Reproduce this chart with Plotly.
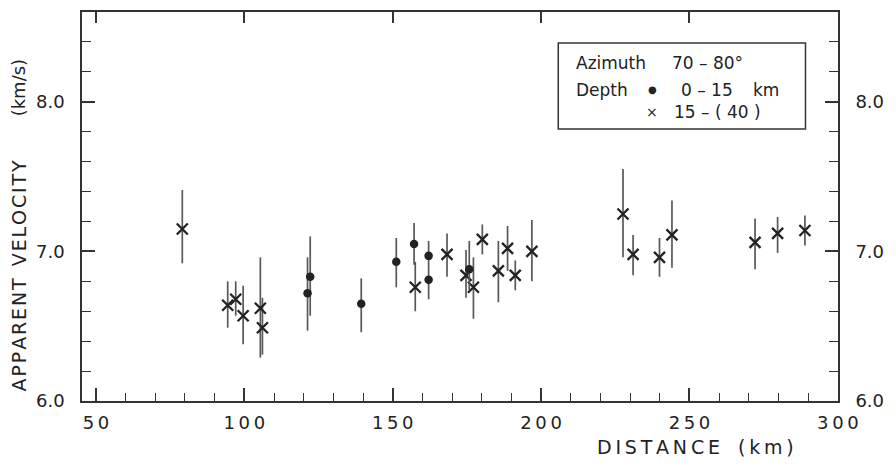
import plotly.graph_objects as go

# ---- data ----
# depth 15-(40) km  (crosses)
cross_dist = [79.1, 94.4, 97.1, 99.6, 105.4, 106.1, 157.6, 168.3, 174.7, 177.2, 180.2,
              185.6, 188.7, 191.3, 196.9, 227.6, 231.0, 239.9, 244.1, 272.1, 279.7, 288.9]
cross_vel = [7.15, 6.64, 6.68, 6.57, 6.62, 6.49, 6.76, 6.98, 6.84, 6.76, 7.08,
             6.87, 7.02, 6.84, 7.00, 7.25, 6.98, 6.96, 7.11, 7.06, 7.12, 7.14]
cross_hi = [7.41, 6.80, 6.80, 6.77, 6.96, 6.69, 6.93, 7.12, 7.01, 6.96, 7.18,
            7.07, 7.17, 6.94, 7.21, 7.55, 7.11, 7.09, 7.34, 7.22, 7.23, 7.24]
cross_lo = [6.92, 6.49, 6.57, 6.38, 6.29, 6.31, 6.60, 6.83, 6.69, 6.55, 6.98,
            6.66, 6.87, 6.74, 6.80, 6.96, 6.84, 6.83, 6.89, 6.88, 6.99, 7.04]

# depth 0-15 km  (dots)
dot_dist = [121.3, 122.2, 139.4, 151.2, 157.2, 162.1, 162.1, 175.8]
dot_vel = [6.72, 6.83, 6.65, 6.93, 7.05, 6.97, 6.81, 6.88]
dot_hi = [6.96, 7.10, 6.82, 7.09, 7.19, 7.07, 6.89, 7.07]
dot_lo = [6.47, 6.57, 6.46, 6.76, 6.91, 6.89, 6.68, 6.74]

x_tickvals = [50, 100, 150, 200, 250, 300]
x_ticktext = ["50", "100", "150", "200", "250", "300"]
y_tickvals = [6, 7, 8]
y_ticktext = ["6.0", "7.0", "8.0"]

INK = "#222222"
FONT = "DejaVu Sans"


def track(s, sp="\u2009"):
    """widen letter spacing like the hand-lettered original"""
    return sp.join(list(s))


fig = go.Figure()

fig.add_trace(go.Scatter(
    x=cross_dist, y=cross_vel, mode="markers", name="15 - (40)",
    marker=dict(symbol="x-thin", size=11, color=INK, line=dict(width=2.3, color=INK)),
    error_y=dict(type="data", symmetric=False,
                 array=[h - v for h, v in zip(cross_hi, cross_vel)],
                 arrayminus=[v - l for l, v in zip(cross_lo, cross_vel)],
                 width=0, thickness=1.7, color="#585858"),
    showlegend=False, hoverinfo="x+y"))

fig.add_trace(go.Scatter(
    x=dot_dist, y=dot_vel, mode="markers", name="0 - 15 km",
    marker=dict(symbol="circle", size=8.5, color=INK),
    error_y=dict(type="data", symmetric=False,
                 array=[h - v for h, v in zip(dot_hi, dot_vel)],
                 arrayminus=[v - l for l, v in zip(dot_lo, dot_vel)],
                 width=0, thickness=1.7, color="#585858"),
    showlegend=False, hoverinfo="x+y"))

# invisible trace to activate the top / right axes
fig.add_trace(go.Scatter(x=[150], y=[7], xaxis="x2", yaxis="y2", mode="markers",
                         marker=dict(opacity=0), showlegend=False, hoverinfo="skip"))

XR = [45.3, 300.05]
YR = [6.0, 8.6]
axis_common = dict(showgrid=False, zeroline=False, showline=True, linewidth=1.6,
                   linecolor="#333333", tickcolor="#333333", tickwidth=1.5, ticks="inside")
tf = dict(size=18, color=INK, family=FONT)

fig.update_layout(
    width=896, height=467,
    margin=dict(l=82, r=51, t=12, b=66),
    paper_bgcolor="white", plot_bgcolor="white",
    font=dict(family=FONT, color=INK, size=17),
    xaxis=dict(range=XR, tickmode="array", tickvals=x_tickvals,
               ticktext=[track(t) for t in x_ticktext],
               ticklen=13, ticklabelstandoff=5, tickfont=tf,
               minor=dict(tickmode="linear", tick0=50, dtick=10, ticks="inside",
                          ticklen=8, tickwidth=1.3, tickcolor="#333333"),
               **axis_common),
    xaxis2=dict(range=XR, overlaying="x", side="top", tickmode="linear", tick0=50, dtick=50,
                ticklen=11, showticklabels=False, **axis_common),
    yaxis=dict(range=YR, tickmode="array", tickvals=y_tickvals, ticktext=y_ticktext,
               ticklen=13, ticklabelstandoff=12, tickfont=tf,
               minor=dict(tickmode="linear", tick0=6, dtick=0.2, ticks="inside",
                          ticklen=9, tickwidth=1.3, tickcolor="#333333"),
               **axis_common),
    yaxis2=dict(range=YR, overlaying="y", side="right", anchor="x", tickmode="array",
                tickvals=y_tickvals, ticktext=y_ticktext,
                ticklen=13, ticklabelstandoff=12, tickfont=tf,
                minor=dict(tickmode="linear", tick0=6, dtick=0.2, ticks="inside",
                           ticklen=9, tickwidth=1.3, tickcolor="#333333"),
                **axis_common),
)

title_font = dict(size=19, color=INK, family=FONT)
ann = []
# axis titles
ann.append(dict(text=track("DISTANCE") + "   " + track("(km)"), x=0.811, y=-0.118,
                font=title_font))
ann.append(dict(text=track("APPARENT", "\u200a") + "  " + track("VELOCITY", "\u200a"),
                x=-0.084, y=0.324, textangle=-90, font=title_font))
ann.append(dict(text="(km/s)", x=-0.084, y=0.805, textangle=-90,
                font=dict(size=18, color=INK, family=FONT)))

# legend box content
lf = dict(size=17, color=INK, family=FONT)
ann += [
    dict(text="Azimuth", x=0.651, y=0.869, xanchor="left"),
    dict(text="70 \u2013 80\u00b0", x=0.778, y=0.869, xanchor="left"),
    dict(text="Depth", x=0.651, y=0.800, xanchor="left"),
    dict(text="\u25cf", x=0.754, y=0.800, xanchor="center", font=dict(size=10, color=INK, family=FONT)),
    dict(text="0 \u2013 15", x=0.790, y=0.800, xanchor="left"),
    dict(text="km", x=0.885, y=0.800, xanchor="left"),
    dict(text="\u00d7", x=0.754, y=0.743, xanchor="center", font=dict(size=14, color=INK, family=FONT)),
    dict(text="15 \u2013 ( 40 )", x=0.781, y=0.743, xanchor="left"),
]
for a in ann:
    a.setdefault("font", lf)
    a.setdefault("xanchor", "center")
    a.update(xref="paper", yref="paper", showarrow=False, yanchor="middle")
fig.update_layout(annotations=ann)

fig.add_shape(type="rect", xref="paper", yref="paper", x0=0.630, x1=0.957, y0=0.699, y1=0.920,
              line=dict(color="#333333", width=1.5), fillcolor="rgba(0,0,0,0)")

fig.write_html("out.html")
